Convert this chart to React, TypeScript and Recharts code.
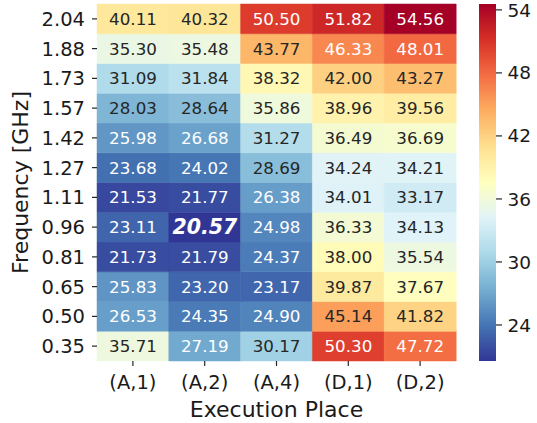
import { Bar, BarChart, Cell, Label, LabelList, XAxis, YAxis } from 'recharts'

// rows listed bottom -> top (0.35 GHz first)
const freqs = ['0.35', '0.50', '0.65', '0.81', '0.96', '1.11', '1.27', '1.42', '1.57', '1.73', '1.88', '2.04']
const places = ['(A,1)', '(A,2)', '(A,4)', '(D,1)', '(D,2)']

const a1 = [35.71, 26.53, 25.83, 21.73, 23.11, 21.53, 23.68, 25.98, 28.03, 31.09, 35.3, 40.11]
const a2 = [27.19, 24.35, 23.2, 21.79, 20.57, 21.77, 24.02, 26.68, 28.64, 31.84, 35.48, 40.32]
const a4 = [30.17, 24.9, 23.17, 24.37, 24.98, 26.38, 28.69, 31.27, 35.86, 38.32, 43.77, 50.5]
const d1 = [50.3, 45.14, 39.87, 38.0, 36.33, 34.01, 34.24, 36.49, 38.96, 42.0, 46.33, 51.82]
const d2 = [47.72, 41.82, 37.67, 35.54, 34.13, 33.17, 34.21, 36.69, 39.56, 43.27, 48.01, 54.56]

const cbarTicks = [24, 30, 36, 42, 48, 54]

const columns = [a1, a2, a4, d1, d2]
const allValues = columns.flat()
const vmin = Math.min(...allValues)
const vmax = Math.max(...allValues)

// RdYlBu_r
const cmap = ['#313695', '#4575b4', '#74add1', '#abd9e9', '#e0f3f8', '#ffffbf', '#fee090', '#fdae61', '#f46d43', '#d73027', '#a50026']

const hexToRgb = (h: string) => [1, 3, 5].map((i) => parseInt(h.slice(i, i + 2), 16))

function colorRgb(v: number) {
  const t = Math.min(1, Math.max(0, (v - vmin) / (vmax - vmin))) * (cmap.length - 1)
  const i = Math.min(cmap.length - 2, Math.floor(t))
  const f = t - i
  const c0 = hexToRgb(cmap[i])
  const c1 = hexToRgb(cmap[i + 1])
  return c0.map((c, k) => Math.round(c + (c1[k] - c) * f))
}

const colorOf = (v: number) => {
  const [r, g, b] = colorRgb(v)
  return `rgb(${r},${g},${b})`
}

function textColor(v: number) {
  const lin = colorRgb(v).map((c) => {
    const s = c / 255
    return s <= 0.03928 ? s / 12.92 : Math.pow((s + 0.055) / 1.055, 2.4)
  })
  const lum = 0.2126 * lin[0] + 0.7152 * lin[1] + 0.0722 * lin[2]
  return lum > 0.408 ? '#262626' : '#ffffff'
}

const rowKeys = freqs.map((_, r) => `r${r}`)
const data = places.map((place) => {
  const row: Record<string, string | number> = { place }
  rowKeys.forEach((k) => (row[k] = 1))
  return row
})

const cbarData = [{ name: 'cbar', range: [vmin, vmax] }]

const font = "'DejaVu Sans', sans-serif"

export default function App() {
  return (
    <div style={{ position: 'absolute', left: 0, top: 0, width: 537, height: 423, background: '#fff', fontFamily: font }}>
      <div style={{ position: 'absolute', left: 0, top: 0 }}>
        <BarChart
          width={537}
          height={423}
          data={data}
          margin={{ top: 4, right: 81, bottom: 0, left: 0 }}
          barCategoryGap={0}
          barGap={0}
        >
          <XAxis
            dataKey="place"
            type="category"
            height={62}
            axisLine={false}
            tickSize={5}
            tickMargin={9}
            tickLine={{ stroke: '#262626', strokeWidth: 1.2 }}
            tick={{ fontSize: 19.5, fill: '#1a1a1a', fontFamily: font }}
          >
            <Label
              value="Execution Place"
              position="insideBottom"
              offset={6}
              style={{ fontSize: 22, fill: '#1a1a1a', fontFamily: font }}
            />
          </XAxis>
          <YAxis
            type="number"
            domain={[0, freqs.length]}
            ticks={freqs.map((_, i) => i + 0.5)}
            tickFormatter={(t: number) => freqs[Math.floor(t)]}
            width={97}
            axisLine={false}
            tickSize={5}
            tickMargin={7}
            tickLine={{ stroke: '#262626', strokeWidth: 1.2 }}
            tick={{ fontSize: 19.5, fill: '#1a1a1a', fontFamily: font }}
          >
            <Label
              value="Frequency [GHz]"
              angle={-90}
              position="insideLeft"
              offset={20}
              style={{ fontSize: 22, fill: '#1a1a1a', fontFamily: font, textAnchor: 'middle' }}
            />
          </YAxis>
          {rowKeys.map((k, r) => (
            <Bar key={k} dataKey={k} stackId="heat" isAnimationActive={false}>
              {columns.map((col, c) => (
                <Cell key={c} fill={colorOf(col[r])} stroke={colorOf(col[r])} strokeWidth={0.5} />
              ))}
              <LabelList
                dataKey={k}
                content={(p: any) => {
                  const v = columns[p.index][r]
                  const isMin = v === vmin
                  return (
                    <text
                      x={p.x + p.width / 2}
                      y={p.y + p.height / 2}
                      textAnchor="middle"
                      dominantBaseline="central"
                      fill={textColor(v)}
                      style={{
                        fontFamily: font,
                        fontSize: isMin ? 20.5 : 16.7,
                        fontWeight: isMin ? 'bold' : 'normal',
                        fontStyle: isMin ? 'italic' : 'normal'
                      }}
                    >
                      {v.toFixed(2)}
                    </text>
                  )
                }}
              />
            </Bar>
          ))}
        </BarChart>
      </div>
      <div style={{ position: 'absolute', left: 479, top: 0 }}>
        <BarChart
          width={58}
          height={423}
          data={cbarData}
          margin={{ top: 4, right: 0, bottom: 62, left: 0 }}
          barCategoryGap={0}
        >
          <defs>
            <linearGradient id="cbarGrad" x1="0" y1="1" x2="0" y2="0">
              {cmap.map((c, i) => (
                <stop key={i} offset={`${(i / (cmap.length - 1)) * 100}%`} stopColor={c} />
              ))}
            </linearGradient>
          </defs>
          <XAxis dataKey="name" hide />
          <YAxis
            type="number"
            orientation="right"
            domain={[vmin, vmax]}
            ticks={cbarTicks}
            width={41}
            axisLine={false}
            tickSize={6}
            tickMargin={5.5}
            tickLine={{ stroke: '#262626', strokeWidth: 1.2 }}
            tick={{ fontSize: 18.5, fill: '#1a1a1a', fontFamily: font }}
          />
          <Bar dataKey="range" fill="url(#cbarGrad)" isAnimationActive={false} />
        </BarChart>
      </div>
    </div>
  )
}
